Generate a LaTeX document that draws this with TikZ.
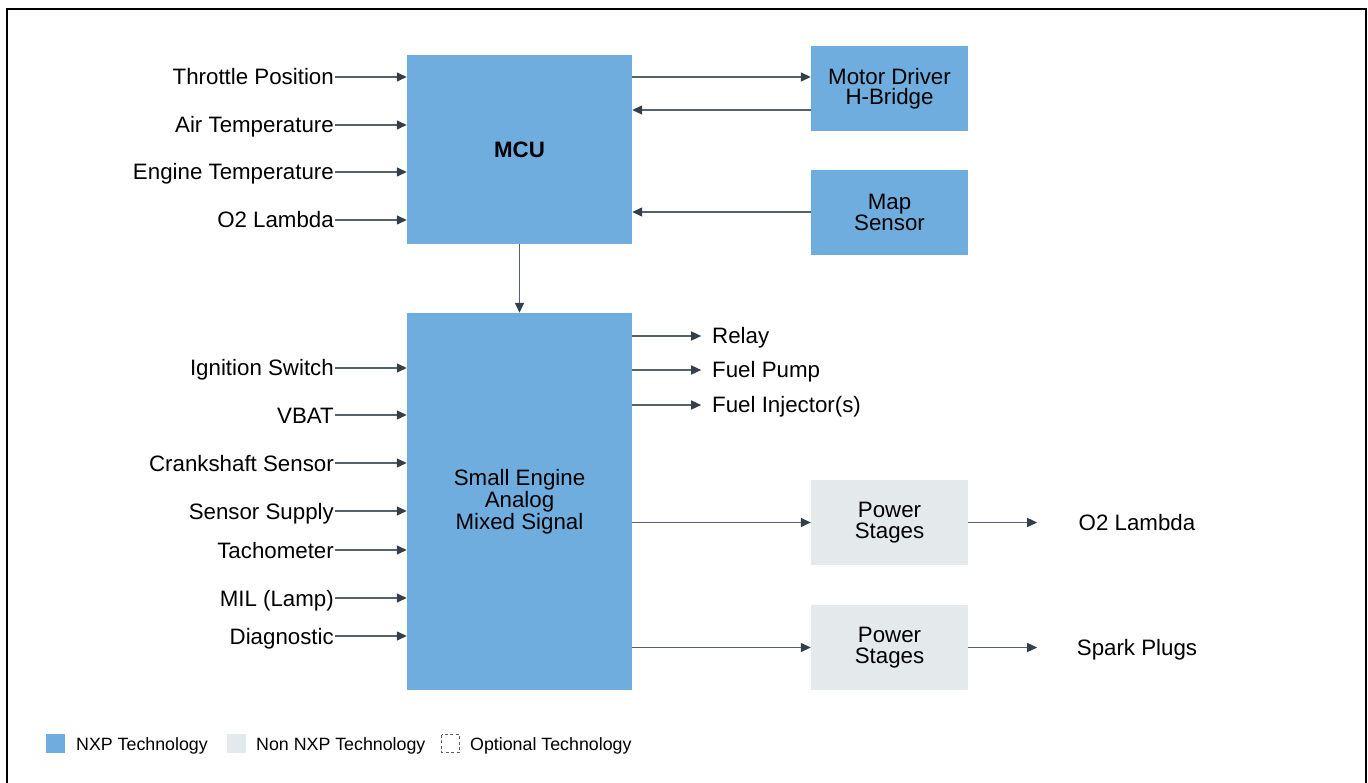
\documentclass[tikz,border=0pt]{standalone}
\usepackage{fontspec}
\setmainfont{Liberation Sans}
\usetikzlibrary{arrows.meta}
\definecolor{nxpblue}{HTML}{6EADDE}
\definecolor{nonnxp}{HTML}{E4E9EC}
\definecolor{linec}{HTML}{56616B}
\definecolor{headc}{HTML}{343F4A}
\begin{document}
\begin{tikzpicture}[x=1pt,y=-1pt,
  blk/.style={fill=nxpblue,draw=none,inner sep=0pt,align=center,font=\fontsize{22.3}{20.5}\selectfont},
  gblk/.style={fill=nonnxp,draw=none,inner sep=0pt,align=center,font=\fontsize{22.3}{20.5}\selectfont},
  lbl/.style={inner sep=1pt,text height=16pt,text depth=0pt,font=\fontsize{22.3}{24}\selectfont},
  arr/.style={draw=linec,line width=1.4pt,-{Triangle[length=10pt,width=9pt,fill=headc,color=headc]}},
  leg/.style={inner sep=0pt,anchor=west,text height=13pt,text depth=0pt,font=\fontsize{17.8}{20}\selectfont}]
\useasboundingbox (0,0) rectangle (1368,783);
% frame
\draw[line width=2pt] (7,783) -- (7,9) -- (1366,9) -- (1366,783);
% blocks
\node[blk,minimum width=225pt,minimum height=189pt,font=\fontsize{22.3}{20.5}\selectfont\bfseries] (mcu) at (519.5,149.5) {MCU};
\node[blk,minimum width=225pt,minimum height=377pt] (sea) at (519.5,501.5) {Small Engine\\Analog\\Mixed Signal};
\node[blk,minimum width=157pt,minimum height=85pt] (mot) at (889.5,88.5) {Motor Driver\\H-Bridge};
\node[blk,minimum width=157pt,minimum height=85pt] (map) at (889.5,212.5) {Map\\Sensor};
\node[gblk,minimum width=157pt,minimum height=85pt] (ps1) at (889.5,522.5) {Power\\Stages};
\node[gblk,minimum width=157pt,minimum height=85pt] (ps2) at (889.5,647.5) {Power\\Stages};
% MCU inputs
\node[lbl,anchor=east] (tp) at (335,77) {Throttle Position};
\node[lbl,anchor=east] (at) at (335,125) {Air Temperature};
\node[lbl,anchor=east] (et) at (335,172) {Engine Temperature};
\node[lbl,anchor=east] (o2a) at (335,220) {O2 Lambda};
\foreach \n in {tp,at,et,o2a} \draw[arr] (\n.east) -- (\n.east -| mcu.west);
% SEAMS inputs
\node[lbl,anchor=east] (ign) at (335,368) {Ignition Switch};
\node[lbl,anchor=east] (vbat) at (335,415) {VBAT};
\node[lbl,anchor=east] (crk) at (335,463) {Crankshaft Sensor};
\node[lbl,anchor=east] (ss) at (335,511) {Sensor Supply};
\node[lbl,anchor=east] (tach) at (335,550) {Tachometer};
\node[lbl,anchor=east] (mil) at (335,598) {MIL (Lamp)};
\node[lbl,anchor=east] (diag) at (335,636) {Diagnostic};
\foreach \n in {ign,vbat,crk,ss,tach,mil,diag} \draw[arr] (\n.east) -- (\n.east -| sea.west);
% MCU links
\coordinate (y1) at (0,77);
\coordinate (y2) at (0,110);
\coordinate (y3) at (0,212);
\draw[arr] (mcu.east |- y1) -- (mot.west |- y1);
\draw[arr] (mot.west |- y2) -- (mcu.east |- y2);
\draw[arr] (map.west |- y3) -- (mcu.east |- y3);
\draw[arr] (mcu.south) -- (sea.north);
% SEAMS outputs
\node[lbl,anchor=west] (rel) at (711,336) {Relay};
\node[lbl,anchor=west] (fp) at (711,370) {Fuel Pump};
\node[lbl,anchor=west] (fi) at (711,405) {Fuel Injector(s)};
\draw[arr] (sea.east |- rel.west) -- ++(69,0) coordinate (c1);
\draw[arr] (sea.east |- fp.west) -- ++(69,0) coordinate (c2);
\draw[arr] (sea.east |- fi.west) -- ++(69,0) coordinate (c3);
\draw[arr] (sea.east |- ps1.west) -- (ps1.west);
\draw[arr] (sea.east |- ps2.west) -- (ps2.west);
\node[lbl] (o2b) at (1137,522.5) {O2 Lambda};
\node[lbl] (sp) at (1137,647.5) {Spark Plugs};
\draw[arr] (ps1.east) -- ++(69,0) coordinate (c4);
\draw[arr] (ps2.east) -- ++(69,0) coordinate (c5);
% legend
\fill[nxpblue] (46,734) rectangle (65,753);
\node[leg] (l1) at (76,744) {NXP Technology};
\fill[nonnxp] (227,734) rectangle (246,753);
\node[leg] (l2) at (256,744) {Non NXP Technology};
\draw[linec,line width=0.8pt,dash pattern=on 3pt off 2.5pt] (441.5,734.5) rectangle (459.5,752.5);
\node[leg] (l3) at (470,744) {Optional Technology};
\end{tikzpicture}
\end{document}
